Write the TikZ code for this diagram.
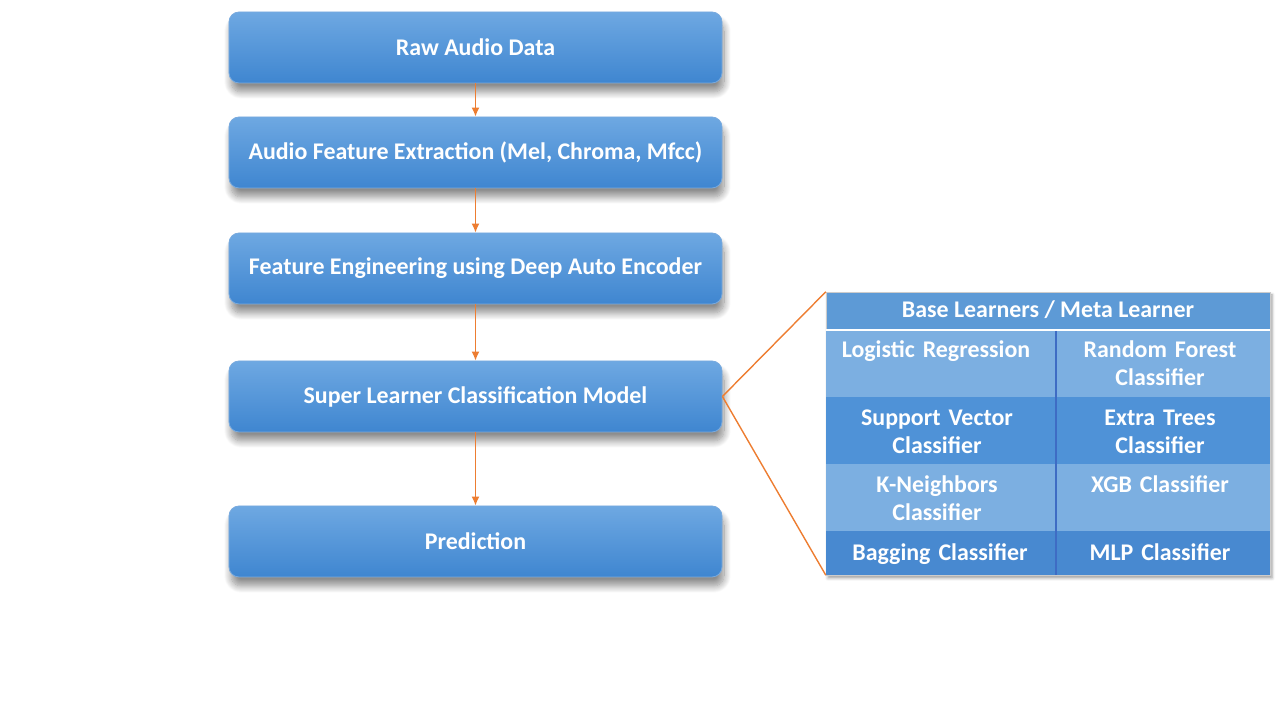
\documentclass[tikz,border=0pt]{standalone}
\usepackage{fontspec}
\setmainfont{Carlito}
\usetikzlibrary{arrows,arrows.meta,shadows,shadows.blur}
\definecolor{boxtop}{RGB}{110,168,226}
\definecolor{boxbot}{RGB}{63,134,208}
\definecolor{lnkorange}{RGB}{237,125,49}
\definecolor{hdrblue}{RGB}{93,154,214}
\definecolor{rowlight}{RGB}{124,175,225}
\definecolor{rowdark}{RGB}{79,146,215}
\definecolor{rowlast}{RGB}{72,137,208}
\definecolor{divblue}{RGB}{62,108,196}

\begin{document}
\begin{tikzpicture}[>=latex, x=1bp, y=1bp]
      \tikzstyle{every node}=[font=\fontsize{24}{28}\selectfont\bfseries, text=white]
      \tikzstyle{stage}=[rectangle, rounded corners=10bp, minimum width=493bp, minimum height=71bp,
        top color=boxtop, bottom color=boxbot, draw=boxbot!70!white, line width=0.8bp,
        blur shadow={shadow xshift=2bp, shadow yshift=-9bp, shadow blur radius=7bp,
          shadow blur steps=12, shadow opacity=45}]
      \tikzstyle{cell}=[anchor=base, inner sep=0pt, text width=225bp, align=center]
      \tikzstyle{link}=[-{Latex[length=9bp,width=8bp]}, draw=lnkorange, line width=1.4bp]

      \useasboundingbox (0,0) rectangle (1280,720);
%%
  \node (raw) at (475.5,672.5) [stage] {Raw Audio Data};
  \node (feat) at (475.5,567.5) [stage] {Audio Feature Extraction (Mel, Chroma, Mfcc)};
  \node (enc) at (475.5,451.5) [stage] {Feature Engineering using Deep Auto Encoder};
  \node (sl) at (475.5,323.5) [stage] {Super Learner Classification Model};
  \node (pred) at (475.5,178.5) [stage] {Prediction};
  \draw [link] (raw) -- (feat);
  \draw [link] (feat) -- (enc);
  \draw [link] (enc) -- (sl);
  \draw [link] (sl) -- (pred);
%%
  \node (tbl) at (1048,286.5) [rectangle, minimum width=444bp, minimum height=283bp, inner sep=0pt,
    fill=hdrblue, draw=gray!40, blur shadow={shadow xshift=2bp, shadow yshift=-3bp,
      shadow blur radius=3bp, shadow opacity=40}] {};
  \fill [rowlight] (826,390) rectangle (1270,323);
  \fill [rowdark] (826,323) rectangle (1270,256);
  \fill [rowlight] (826,256) rectangle (1270,189);
  \fill [rowlast] (826,189) rectangle (1270,145);
  \draw [white, line width=2.5bp] (826,390) -- (1270,390);
  \draw [divblue, line width=1.5bp] (1056,389) -- (1056,145);
  \node (hdr) at (1048,402) [anchor=base, inner sep=0pt] {Base Learners / Meta Learner};
  \node (lr) at (936,362) [cell] {Logistic Regression};
  \node (rf) at (1160,362) [cell] {Random Forest\\Classifier};
  \node (svc) at (937,294) [cell] {Support Vector\\Classifier};
  \node (et) at (1160,294) [cell] {Extra Trees\\Classifier};
  \node (knn) at (937,227) [cell] {K-Neighbors\\Classifier};
  \node (xgb) at (1160,227) [cell] {XGB Classifier};
  \node (bag) at (940,159) [cell] {Bagging Classifier};
  \node (mlp) at (1160,159) [cell] {MLP Classifier};
  \draw [draw=lnkorange, line width=1.4bp] (sl.east) -- (tbl.north west);
  \draw [draw=lnkorange, line width=1.4bp] (sl.east) -- (tbl.south west);
%

    \end{tikzpicture}
\end{document}
